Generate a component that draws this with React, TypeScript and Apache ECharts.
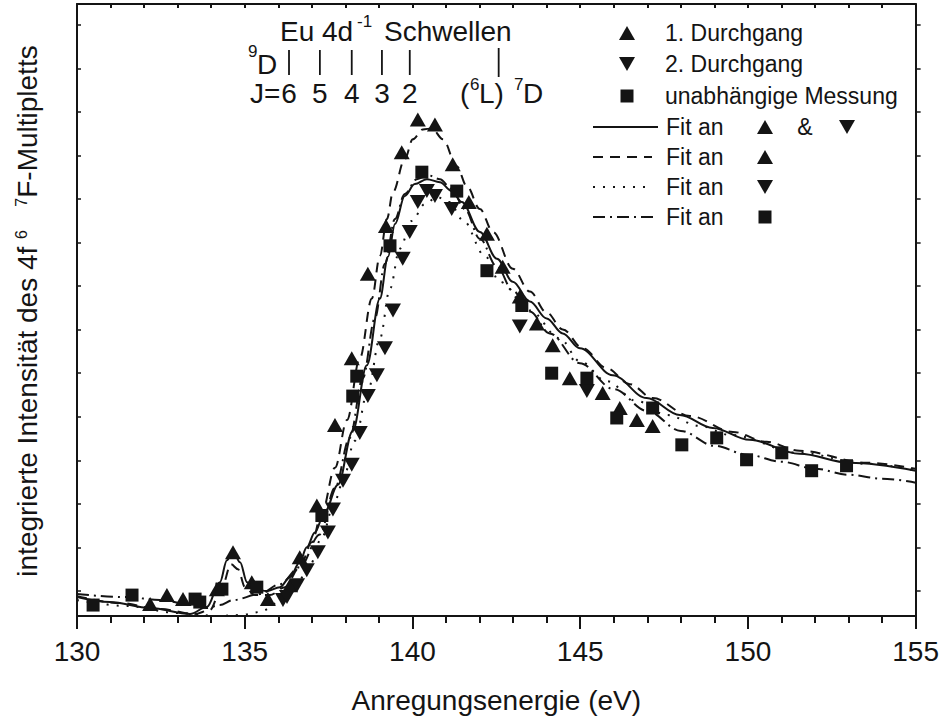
import React, { useEffect, useRef } from "react";
import * as echarts from "echarts";

const FONT = '"Liberation Sans", Arial, Helvetica, sans-serif';
const INK = "#141414";

// 1. Durchgang (up triangles)
const run1Energy = [132.18, 132.68, 133.16, 134.17, 134.65, 135.21, 135.69, 136.35, 136.64, 137.15, 137.69, 138.19, 138.67, 139.21, 139.68, 140.16, 140.67, 141.2, 141.68, 142.22, 142.69, 143.2, 143.71, 144.18, 144.69, 145.67, 146.18, 146.69, 147.16];
const run1Intensity = [1.2, 2.1, 1.7, 2.7, 6.4, 3.4, 1.7, 3.1, 5.9, 11.1, 19.2, 25.9, 34.4, 39.2, 46.6, 49.9, 49.4, 45.4, 41.6, 38.4, 35.1, 32.1, 29.4, 27.2, 23.9, 22.4, 20.9, 19.7, 19.1];

// 2. Durchgang (down triangles)
const run2Energy = [136.14, 136.26, 136.56, 136.85, 137.18, 137.48, 137.63, 137.93, 138.19, 138.43, 138.67, 138.94, 139.18, 139.42, 139.71, 139.92, 140.16, 140.43, 140.67, 141.17, 143.2, 145.2];
const run2Intensity = [1.6, 1.9, 3.1, 4.6, 6.4, 8.4, 10.7, 13.6, 15.2, 18.4, 22.1, 24.2, 26.9, 30.7, 35.9, 38.6, 41.6, 42.7, 42.2, 40.9, 29.1, 22.6];

// unabhaengige Messung (squares)
const indepEnergy = [130.48, 131.64, 133.52, 133.66, 134.32, 135.36, 137.3, 138.22, 138.34, 139.33, 140.28, 141.32, 142.22, 143.26, 144.15, 145.2, 146.09, 147.16, 148.03, 149.07, 149.96, 151.01, 151.9, 152.94];
const indepIntensity = [1.1, 2.1, 1.7, 1.4, 2.7, 2.9, 10.1, 22.1, 24.1, 37.2, 44.6, 42.7, 34.7, 31.2, 24.4, 23.9, 19.9, 20.9, 17.2, 17.9, 15.7, 16.4, 14.6, 15.1];

// Fit an run1 & run2 (solid)
const fitBothEnergy = [130, 130.98, 132.18, 133.37, 133.87, 134.26, 134.47, 134.65, 134.86, 135.07, 135.3, 135.66, 136.05, 136.35, 136.64, 136.85, 137.09, 137.39, 137.78, 138.22, 138.64, 139.03, 139.27, 139.48, 139.77, 140.07, 140.43, 140.82, 141.17, 141.47, 142.01, 142.52, 142.99, 143.5, 144.0, 144.48, 144.99, 145.97, 146.98, 147.97, 148.95, 150.05, 151.54, 153.03, 155];
const fitBothIntensity = [1.9, 1.4, 0.8, 0.2, 0.9, 3.4, 5.6, 6.6, 5.4, 3.4, 2.7, 2.5, 2.9, 3.9, 5.4, 6.9, 8.4, 10.5, 13.2, 18.6, 25.2, 31.9, 36.1, 39.4, 42.2, 43.4, 43.9, 43.6, 42.7, 41.6, 38.6, 35.9, 33.6, 31.6, 29.9, 28.4, 26.9, 24.2, 21.9, 20.2, 18.9, 17.7, 16.3, 15.4, 14.6];

// Fit an run1 (dashed)
const fitRun1Energy = [130, 131.28, 132.47, 133.52, 133.96, 134.32, 134.59, 134.8, 135.01, 135.3, 135.75, 136.2, 136.64, 137.0, 137.3, 137.69, 138.05, 138.43, 138.79, 139.03, 139.24, 139.42, 139.77, 140.01, 140.31, 140.58, 140.91, 141.32, 141.62, 142.01, 142.4, 142.99, 143.5, 144.0, 144.48, 145.08, 145.79, 146.48, 147.16, 148.27, 149.55, 150.56, 151.54, 153.54, 155];
const fitRun1Intensity = [2.0, 1.3, 0.7, 0.2, 0.6, 2.9, 5.2, 4.7, 2.9, 2.1, 2.1, 2.9, 4.9, 7.4, 10.4, 14.9, 19.7, 25.9, 31.9, 36.2, 39.9, 42.6, 45.9, 47.9, 48.9, 49.0, 47.9, 45.2, 43.2, 40.9, 38.6, 34.9, 32.6, 30.5, 28.8, 26.9, 24.9, 23.3, 21.9, 20.1, 18.5, 17.5, 16.6, 15.4, 14.8];

// Fit an run2 (dotted)
const fitRun2Energy = [130, 131.5, 133.0, 134.2, 134.9, 135.45, 136.05, 136.5, 136.94, 137.3, 137.63, 137.9, 138.28, 138.67, 139.03, 139.33, 139.62, 139.98, 140.37, 140.73, 141.1, 141.5, 142.16, 142.6, 143.5, 144.39, 144.99, 145.79, 146.69, 147.58, 148.56, 149.46, 151.54, 153.54, 155];
const fitRun2Intensity = [1.6, 1.0, 0.3, 0.0, 0.1, 0.4, 1.4, 2.9, 5.1, 7.9, 10.9, 13.2, 17.6, 22.6, 27.9, 32.9, 36.9, 39.7, 41.4, 42.1, 41.6, 39.8, 36.2, 33.6, 30.7, 27.9, 25.6, 23.6, 21.6, 20.2, 19.1, 18.2, 16.4, 15.3, 14.6];

// Fit an squares (dash-dot)
const fitIndepEnergy = [130, 131.49, 132.47, 133.46, 133.87, 134.26, 134.65, 135.45, 136.05, 136.64, 137.24, 137.69, 138.13, 138.52, 138.88, 139.18, 139.48, 139.77, 140.13, 140.46, 140.82, 141.17, 141.56, 142.01, 142.52, 142.99, 143.5, 144.09, 144.99, 146.0, 147.0, 148.0, 149.0, 150.0, 151.0, 152.0, 153.0, 154.0, 155];
const fitIndepIntensity = [2.2, 1.9, 1.6, 1.1, 0.8, 1.1, 1.6, 2.2, 3.2, 4.9, 8.2, 12.9, 17.9, 23.9, 29.9, 35.4, 39.9, 42.4, 43.9, 44.3, 43.9, 42.9, 40.9, 37.9, 35.1, 32.7, 30.6, 28.4, 25.4, 22.8, 20.6, 18.6, 17.1, 16.2, 15.5, 14.8, 14.2, 13.8, 13.4];

// y tick positions (no labels in the original)
const yTickValues = [2.53, 6.9, 11.28, 15.65, 20.03, 24.4, 28.78, 33.15, 37.53, 41.9, 46.28, 50.65, 55.03, 59.4];

// Eu 4d^-1 thresholds
const thresholdEnergies = [136.32, 137.24, 138.19, 139.09, 139.92, 142.57];
const thresholdLabels = ["6", "5", "4", "3", "2", ""];

const zip = (xs: number[], ys: number[]) => xs.map((x, i) => [x, ys[i]]);

const tri = (cx: number, cy: number, up: boolean) => ({
  type: "polygon",
  shape: {
    points: up
      ? [[cx - 8, cy + 7], [cx + 8, cy + 7], [cx, cy - 7]]
      : [[cx - 8, cy - 7], [cx + 8, cy - 7], [cx, cy + 7]],
  },
  style: { fill: INK },
});
const sq = (cx: number, cy: number) => ({
  type: "rect",
  shape: { x: cx - 6.5, y: cy - 6.5, width: 13, height: 13 },
  style: { fill: INK },
});
const txt = (text: string, x: number, y: number, size: number, align = "left") => ({
  type: "text",
  x,
  y,
  style: { text, fontSize: size, fontFamily: FONT, fill: INK, align, verticalAlign: "middle" },
});
const seg = (x1: number, x2: number, y: number, dash: any) => ({
  type: "line",
  shape: { x1, y1: y, x2, y2: y },
  style: { stroke: INK, lineWidth: 2, lineDash: dash },
});

const DASHED = [10, 7];
const DOTTED = [2, 8];
const DASHDOT = [12, 5, 2, 5];

export default function App() {
  const ref = useRef<HTMLDivElement>(null);

  useEffect(() => {
    if (!ref.current) return;
    const chart = echarts.init(ref.current, null, { renderer: "svg" });

    const axisLineStyle = { color: INK, width: 2 };
    const rows = [33, 64, 96, 127, 157, 187, 217];

    const graphic: any[] = [
      // legend
      tri(627, rows[0], true), txt("1. Durchgang", 665, rows[0], 23),
      tri(627, rows[1], false), txt("2. Durchgang", 665, rows[1], 23),
      sq(627, rows[2]), txt("unabhängige Messung", 665, rows[2], 23),
      seg(593, 658, rows[3], null), txt("Fit an", 666, rows[3], 23),
      tri(765, rows[3], true), txt("&", 805, rows[3], 23, "center"), tri(847, rows[3], false),
      seg(593, 652, rows[4], DASHED), txt("Fit an", 666, rows[4], 23), tri(765, rows[4], true),
      seg(593, 652, rows[5], DOTTED), txt("Fit an", 666, rows[5], 23), tri(765, rows[5], false),
      seg(593, 658, rows[6], DASHDOT), txt("Fit an", 666, rows[6], 23), sq(765, rows[6]),
      // threshold annotation
      txt("Eu 4d", 280, 31, 28),
      txt("-1", 357, 21, 17),
      txt("Schwellen", 384, 31, 28),
      txt("9", 248, 51, 17),
      txt("D", 257, 64, 28),
      txt("J=", 250, 93, 28),
      txt("(", 460, 93, 28),
      txt("6", 470, 84, 17),
      txt("L)", 479, 93, 28),
      txt("7", 514, 84, 17),
      txt("D", 523, 93, 28),
      // y-axis title
      {
        type: "text",
        x: 27,
        y: 311,
        rotation: Math.PI / 2,
        style: {
          text: "integrierte Intensität des 4f {s|6}   {s|7}F-Multipletts",
          fontSize: 28,
          fontFamily: FONT,
          fill: INK,
          align: "center",
          verticalAlign: "middle",
          rich: {
            s: { fontSize: 16, fontFamily: FONT, fill: INK, padding: [0, 0, 12, 0] },
          },
        },
      },
    ];

    const lineSeries = (name: string, xs: number[], ys: number[], dash: any) => ({
      name,
      type: "line",
      data: zip(xs, ys),
      showSymbol: false,
      symbol: "none",
      smooth: 0.35,
      smoothMonotone: "x",
      lineStyle: { color: INK, width: 2, type: dash, opacity: 1 },
      z: 3,
    });

    const markerStyle = { color: INK, opacity: 1 };

    chart.setOption({
      animation: false,
      backgroundColor: "#ffffff",
      grid: { left: 77, right: 26, top: 4, bottom: 100, containLabel: false },
      xAxis: [
        {
          type: "value",
          min: 130,
          max: 155,
          interval: 5,
          position: "bottom",
          axisLine: { show: true, onZero: false, lineStyle: axisLineStyle },
          axisTick: { show: true, inside: false, length: 13, lineStyle: axisLineStyle },
          minorTick: { show: true, splitNumber: 5, length: 7, lineStyle: axisLineStyle },
          axisLabel: { margin: 21, fontSize: 28, fontFamily: FONT, color: INK },
          splitLine: { show: false },
          name: "Anregungsenergie (eV)",
          nameLocation: "middle",
          nameGap: 70,
          nameTextStyle: { fontSize: 28, fontFamily: FONT, color: INK },
        },
        {
          type: "value",
          min: 130,
          max: 155,
          interval: 1,
          position: "top",
          axisLine: { show: true, onZero: false, lineStyle: axisLineStyle },
          axisTick: { show: true, inside: true, length: 4, lineStyle: axisLineStyle },
          axisLabel: { show: false },
          splitLine: { show: false },
        },
      ],
      yAxis: [
        {
          type: "value",
          min: 0,
          max: 61.5,
          position: "left",
          axisLine: { show: true, onZero: false, lineStyle: axisLineStyle },
          axisTick: { show: true, inside: true, length: 4, lineStyle: { color: INK, width: 1.5 }, customValues: yTickValues },
          axisLabel: { show: false },
          splitLine: { show: false },
        },
        {
          type: "value",
          min: 0,
          max: 61.5,
          position: "right",
          axisLine: { show: true, onZero: false, lineStyle: axisLineStyle },
          axisTick: { show: true, inside: false, length: 5, lineStyle: { color: INK, width: 1.5 }, customValues: yTickValues },
          axisLabel: { show: false },
          splitLine: { show: false },
        },
      ],
      series: [
        lineSeries("Fit both", fitBothEnergy, fitBothIntensity, "solid"),
        lineSeries("Fit run1", fitRun1Energy, fitRun1Intensity, DASHED),
        lineSeries("Fit run2", fitRun2Energy, fitRun2Intensity, DOTTED),
        lineSeries("Fit indep", fitIndepEnergy, fitIndepIntensity, DASHDOT),
        {
          name: "1. Durchgang",
          type: "scatter",
          data: zip(run1Energy, run1Intensity),
          symbol: "triangle",
          symbolSize: [16, 14],
          itemStyle: markerStyle,
          z: 4,
        },
        {
          name: "2. Durchgang",
          type: "scatter",
          data: zip(run2Energy, run2Intensity),
          symbol: "triangle",
          symbolRotate: 180,
          symbolSize: [16, 14],
          itemStyle: markerStyle,
          z: 4,
        },
        {
          name: "unabhängige Messung",
          type: "scatter",
          data: zip(indepEnergy, indepIntensity),
          symbol: "rect",
          symbolSize: 13,
          itemStyle: markerStyle,
          z: 4,
        },
        {
          name: "Schwellen",
          type: "custom",
          silent: true,
          clip: false,
          data: thresholdEnergies.map((e, i) => [e, 0, i]),
          renderItem: (params: any, api: any) => {
            const x = api.coord([api.value(0), 0])[0];
            const i = api.value(2);
            const last = i === thresholdEnergies.length - 1;
            return {
              type: "group",
              children: [
                {
                  type: "line",
                  shape: { x1: x, y1: last ? 48 : 50, x2: x, y2: last ? 77 : 75 },
                  style: { stroke: INK, lineWidth: 1.8 },
                },
                {
                  type: "text",
                  style: {
                    text: thresholdLabels[i],
                    x,
                    y: 93,
                    fontSize: 28,
                    fontFamily: FONT,
                    fill: INK,
                    align: "center",
                    verticalAlign: "middle",
                  },
                },
              ],
            };
          },
        },
      ],
      graphic,
    });

    return () => chart.dispose();
  }, []);

  return (
    <div
      ref={ref}
      style={{ position: "fixed", left: 0, top: 0, width: 942, height: 719, background: "#fff" }}
    />
  );
}
